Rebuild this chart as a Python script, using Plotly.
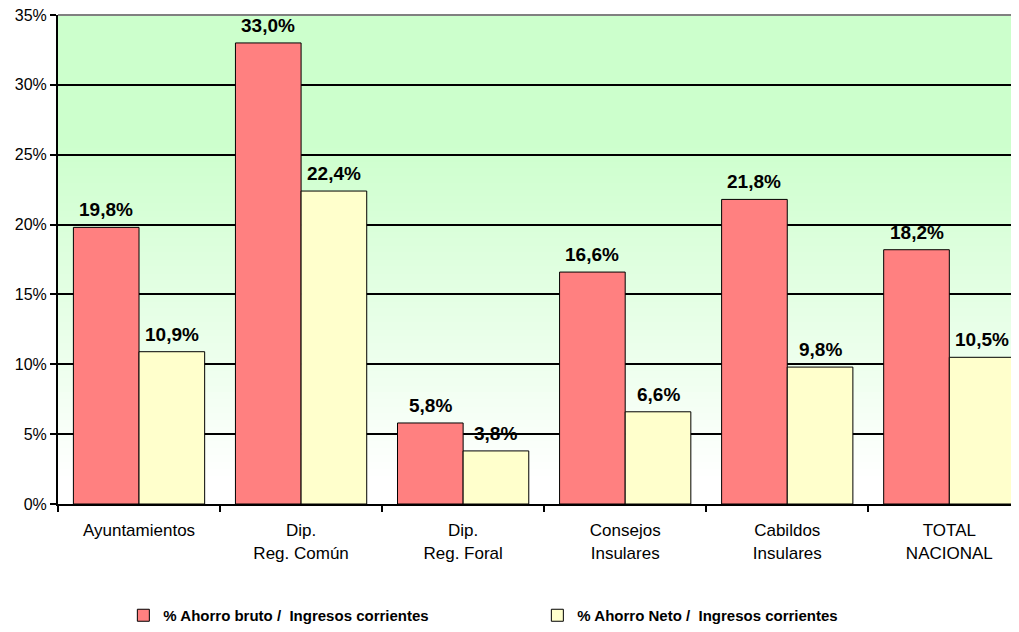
import plotly.graph_objects as go

categories = ["Ayuntamientos", "Dip.<br>Reg. Común", "Dip.<br>Reg. Foral",
              "Consejos<br>Insulares", "Cabildos<br>Insulares", "TOTAL<br>NACIONAL"]
ahorro_bruto = [19.8, 33.0, 5.8, 16.6, 21.8, 18.2]
ahorro_neto = [10.9, 22.4, 3.8, 6.6, 9.8, 10.5]
series_names = ["% Ahorro bruto /  Ingresos corrientes", "% Ahorro Neto /  Ingresos corrientes"]
y_ticks = [0, 5, 10, 15, 20, 25, 30, 35]
y_tick_labels = [f"{v}%" for v in y_ticks]

FONT = "Liberation Sans, Arial, sans-serif"
BARGAP = 0.19
half = (1 - BARGAP) / 4  # offset of each bar centre from category centre

fig = go.Figure()
fig.add_trace(go.Bar(
    x=categories, y=ahorro_bruto, name=series_names[0],
    marker=dict(color="#FF8080", line=dict(color="black", width=1)),
))
fig.add_trace(go.Bar(
    x=categories, y=ahorro_neto, name=series_names[1],
    marker=dict(color="#FFFFCC", line=dict(color="black", width=1)),
))

annotations = []
for offs, vals in ((-half, ahorro_bruto), (half, ahorro_neto)):
    for i, v in enumerate(vals):
        annotations.append(dict(
            x=i + offs, y=v, xref="x", yref="y", showarrow=False,
            text="<b>" + f"{v:.1f}".replace(".", ",") + "%</b>",
            yanchor="bottom", yshift=5,
            font=dict(family=FONT, size=19, color="black")))

# gradient background: green at top fading to white at bottom
shapes = []
n = 70
for i in range(n):
    t0 = i / n
    t1 = (i + 1) / n
    tm = (t0 + t1) / 2  # 0 at bottom, 1 at top
    f = min(1.0, max(0.0, (tm - 0.05) / 0.7))
    r = round(255 - (255 - 204) * f)
    shapes.append(dict(type="rect", xref="x domain", yref="y domain",
                       x0=0, x1=1, y0=t0, y1=t1 + 0.002,
                       fillcolor=f"rgb({r},255,{r})", line=dict(width=0),
                       layer="below"))
shapes.append(dict(type="line", xref="x domain", yref="y domain", x0=0, x1=1,
                   y0=1, y1=1, line=dict(color="#808080", width=2)))

fig.update_layout(
    width=1011, height=624,
    margin=dict(l=50, r=0, t=7, b=128),
    paper_bgcolor="white", plot_bgcolor="rgba(0,0,0,0)",
    barmode="group", bargap=BARGAP, bargroupgap=0,
    shapes=shapes, annotations=annotations,
    showlegend=True,
    legend=dict(orientation="h", x=0.068, xanchor="left", y=-0.195, yanchor="top",
                font=dict(family=FONT, size=15, color="black", weight="bold"),
                entrywidth=369, traceorder="normal"),
    xaxis=dict(range=[-0.5, 5.43], showline=True, linecolor="black", linewidth=2,
               ticks="outside", tickson="boundaries", ticklen=6, tickcolor="black",
               tickwidth=2, ticklabelstandoff=10,
               tickfont=dict(family=FONT, size=17, color="black"), showgrid=False),
    yaxis=dict(range=[0, 35], tickvals=y_ticks, ticktext=y_tick_labels, showline=True,
               linecolor="black", linewidth=2, ticks="outside", ticklen=6,
               tickcolor="black", tickwidth=1.5, ticklabeloverflow="allow",
               showgrid=True, gridcolor="black", gridwidth=1.5, zeroline=False,
               tickfont=dict(family=FONT, size=16, color="black")),
)
fig.write_html("out.html")
